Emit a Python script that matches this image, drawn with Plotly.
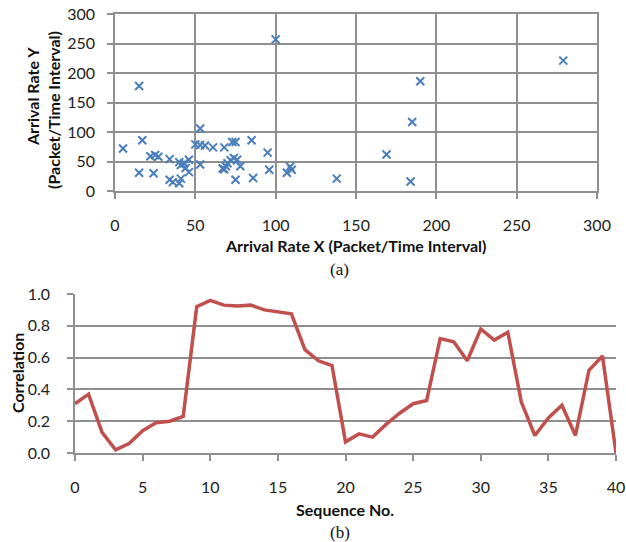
import plotly.graph_objects as go

# Scatter (a): arrival rates
arrival_x = [5, 15, 17, 15, 24, 22, 25, 27, 34, 34, 36, 40, 41, 40, 41, 43, 44, 46, 46,
             50, 53, 53, 56, 53, 61, 68, 67, 68, 69, 70, 72, 74, 76, 78, 73, 75, 75,
             85, 86, 95, 96, 100, 107, 109, 110, 138, 169, 184, 185, 190, 279]
arrival_y = [72, 178, 86, 31, 30, 59, 61, 58, 54, 19, 15, 13, 21, 49, 44, 47, 39, 53, 32,
             79, 106, 78, 77, 45, 74, 74, 38, 37, 42, 47, 52, 56, 53, 42, 83, 83, 19,
             86, 22, 65, 36, 257, 31, 41, 36, 21, 62, 16, 117, 186, 221]

# Line (b): correlation per sequence number
seq_no = list(range(41))
correlation = [0.31, 0.37, 0.13, 0.02, 0.06, 0.14, 0.19, 0.20, 0.23, 0.92,
               0.96, 0.93, 0.925, 0.93, 0.90, 0.89, 0.875, 0.65, 0.58, 0.55,
               0.07, 0.12, 0.10, 0.18, 0.25, 0.31, 0.33, 0.72, 0.70, 0.58,
               0.78, 0.71, 0.76, 0.32, 0.11, 0.22, 0.30, 0.11, 0.52, 0.61, 0.0]

W, H = 626, 542
def px(x): return x / W
def py(y): return 1 - y / H

FONT = "Lato"
GRID = "#8f8f8f"
TICKFONT = dict(family=FONT, size=16, color="#222222")
TITLEFONT = dict(family=FONT, size=16, color="#111111")

common = dict(gridcolor=GRID, gridwidth=1.6, zeroline=False, showline=True,
              linecolor=GRID, linewidth=1.6, ticks="outside", ticklen=6,
              tickcolor=GRID, tickwidth=1.6, tickfont=TICKFONT,
              automargin=False, fixedrange=True)

fig = go.Figure()
fig.add_trace(go.Scatter(
    x=arrival_x, y=arrival_y, mode="markers", xaxis="x", yaxis="y",
    marker=dict(symbol="x-thin", size=8, line=dict(width=2, color="#4A7EBB"), color="#4A7EBB"),
    showlegend=False, cliponaxis=False, hoverinfo="skip"))
fig.add_trace(go.Scatter(
    x=seq_no, y=correlation, mode="lines", xaxis="x2", yaxis="y2",
    line=dict(color="#C0504D", width=3.5), showlegend=False, cliponaxis=False, hoverinfo="skip"))

fig.update_layout(
    width=W, height=H, margin=dict(l=0, r=0, t=0, b=0, autoexpand=False),
    paper_bgcolor="white", plot_bgcolor="white",
    xaxis=dict(domain=[px(115), px(597)], range=[0, 300], dtick=50, tick0=0,
               showgrid=True, mirror=True, ticklabelstandoff=13, anchor="y", **common),
    yaxis=dict(domain=[py(191), py(14)], range=[0, 300], dtick=50, tick0=0,
               showgrid=True, mirror=True, ticklabelstandoff=9, anchor="x", **common),
    xaxis2=dict(domain=[px(75), px(616)], range=[0, 40], dtick=5, tick0=0,
                showgrid=False, ticklabelstandoff=13, anchor="y2", **common),
    yaxis2=dict(domain=[py(453), py(294)], range=[0, 1], dtick=0.2, tick0=0,
                tickformat=".1f", showgrid=True, ticklabelstandoff=14, anchor="x2", **common),
)

annotations = [
    dict(text="<b>Arrival Rate X (Packet/Time Interval)</b>", x=px(356), y=py(245), font=TITLEFONT, textangle=0),
    dict(text="<b>Arrival Rate Y</b>", x=px(32), y=py(97), font=TITLEFONT, textangle=-90),
    dict(text="<b>(Packet/Time Interval)</b>", x=px(53), y=py(110), font=TITLEFONT, textangle=-90),
    dict(text="(a)", x=px(340), y=py(269), font=dict(family="Liberation Serif", size=17, color="#111111"), textangle=0),
    dict(text="<b>Sequence No.</b>", x=px(345), y=py(509), font=TITLEFONT, textangle=0),
    dict(text="<b>Correlation</b>", x=px(17), y=py(373), font=TITLEFONT, textangle=-90),
    dict(text="(b)", x=px(340), y=py(532), font=dict(family="Liberation Serif", size=17, color="#111111"), textangle=0),
]
for a in annotations:
    fig.add_annotation(xref="paper", yref="paper", showarrow=False,
                       xanchor="center", yanchor="middle", **a)

fig.write_html("out.html", config={"displayModeBar": False},
               post_script="document.body.style.margin='0';document.body.style.overflow='hidden';")
